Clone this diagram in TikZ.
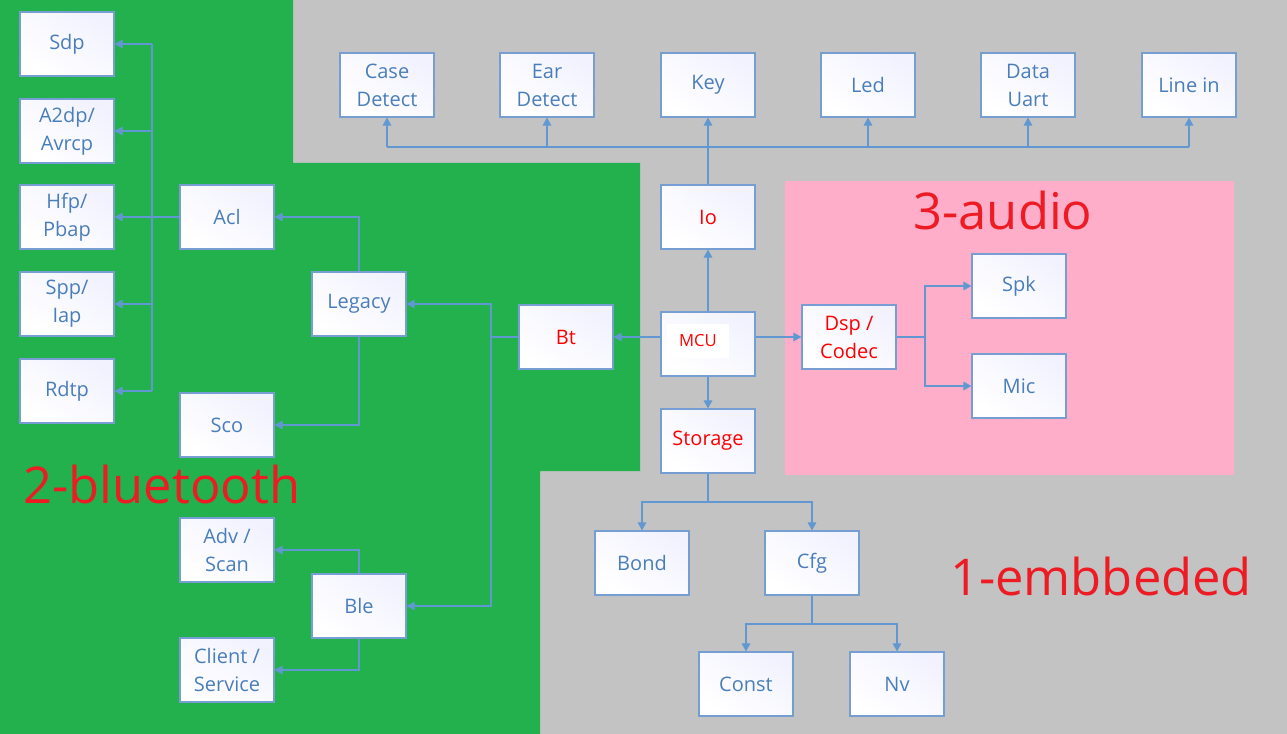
\documentclass[tikz,border=0pt]{standalone}
\usepackage{fontspec}
\setmainfont{Open Sans}
\usetikzlibrary{arrows.meta}

\definecolor{bggray}{RGB}{195,195,195}
\definecolor{btgreen}{RGB}{34,177,76}
\definecolor{audpink}{RGB}{255,174,201}
\definecolor{boxline}{RGB}{118,158,210}
\definecolor{wire}{RGB}{98,152,210}
\definecolor{txtblue}{RGB}{74,126,187}
\definecolor{lblred}{RGB}{237,28,36}

\tikzset{
    blk/.style={draw=boxline, line width=0.9pt, top color=blue!5!white, bottom color=white,
        shading angle=-35, minimum width=70.5pt, minimum height=48pt, inner sep=0pt,
        align=center, text=txtblue, font=\fontsize{15}{21}\selectfont},
    hot/.style={text=red},
    arr/.style={draw=wire, line width=0.8pt, -{Triangle[length=6pt, width=6.5pt]}},
    wr/.style={draw=wire, line width=0.8pt},
    area/.style={text=lblred, font=\fontsize{38}{40}\selectfont}
}

\begin{document}
\begin{tikzpicture}[x=0.75pt, y=-0.75pt]
        \useasboundingbox (0, 0) rectangle (1287, 734);

        % areas
        \fill[bggray] (0, 0) rectangle (1287, 734);
        \fill[btgreen] (0, 0) -- (293, 0) -- (293, 163) -- (640, 163) -- (640, 471)
            -- (540, 471) -- (540, 734) -- (0, 734) -- cycle;
        \fill[audpink] (785, 181) rectangle (1234, 475);

        \node[area] (lblaudio) at (1003, 210) {3-audio};
        \node[area] (lblbt) at (162, 484) {2-bluetooth};
        \node[area] (lblemb) at (1101, 576) {1-embbeded};

        % bluetooth profiles
        \node[blk] (Sdp)  at (67, 44)  {Sdp};
        \node[blk] (A2dp) at (67, 131) {A2dp/\\Avrcp};
        \node[blk] (Hfp)  at (67, 217) {Hfp/\\Pbap};
        \node[blk] (Spp)  at (67, 304) {Spp/\\Iap};
        \node[blk] (Rdtp) at (67, 391) {Rdtp};

        \node[blk] (Acl)    at (227, 217) {Acl};
        \node[blk] (Sco)    at (227, 425) {Sco};
        \node[blk] (Legacy) at (359, 304) {Legacy};
        \node[blk] (Adv)    at (227, 550) {Adv /\\Scan};
        \node[blk] (Client) at (227, 670) {Client /\\Service};
        \node[blk] (Ble)    at (359, 606) {Ble};
        \node[blk, hot] (Bt) at (566, 337) {Bt};

        % embedded
        \node[blk] (Case)   at (387, 85)  {Case\\Detect};
        \node[blk] (Ear)    at (547, 85)  {Ear\\Detect};
        \node[blk] (Key)    at (708, 85)  {Key};
        \node[blk] (Led)    at (868, 85)  {Led};
        \node[blk] (Uart)   at (1028, 85) {Data\\Uart};
        \node[blk] (Linein) at (1189, 85) {Line in};

        \node[blk, hot] (Io) at (708, 217) {Io};
        \node[blk] (MCU) at (708, 344) {};
        \node[fill=white, text=red, inner sep=0pt, minimum width=46pt, minimum height=26pt,
            font=\fontsize{12.5}{14}\selectfont] (mcutxt) at (698, 341) {MCU};
        \node[blk, hot] (Storage) at (708, 441) {Storage};
        \node[blk] (Bond)  at (642, 563) {Bond};
        \node[blk] (Cfg)   at (812, 563) {Cfg};
        \node[blk] (Const) at (746, 684) {Const};
        \node[blk] (Nv)    at (897, 684) {Nv};

        % audio
        \node[blk, hot] (Dsp) at (849, 337) {Dsp /\\Codec};
        \node[blk] (Spk) at (1019, 286) {Spk};
        \node[blk] (Mic) at (1019, 386) {Mic};

        % bus points
        \coordinate (pbus) at (152, 44);
        \coordinate (btbus) at (491, 337);
        \coordinate (tbus) at (708, 147);
        \coordinate (sbus) at (708, 502);
        \coordinate (cbus) at (812, 624);
        \coordinate (dbus) at (925, 337);

        % profiles bus
        \draw[wr] (pbus) -- (pbus |- Rdtp.east);
        \draw[wr] (Acl.west) -- (Acl.west -| pbus);
        \foreach \b in {Sdp, A2dp, Hfp, Spp, Rdtp}
            \draw[arr] (\b.east -| pbus) -- (\b.east);

        \draw[arr] (Legacy.north) |- (Acl.east);
        \draw[arr] (Legacy.south) |- (Sco.east);
        \draw[arr] (Ble.north) |- (Adv.east);
        \draw[arr] (Ble.south) |- (Client.east);

        \draw[wr] (Bt.west) -- (btbus);
        \draw[arr] (btbus) |- (Legacy.east);
        \draw[arr] (btbus) |- (Ble.east);

        % mcu
        \draw[arr] (MCU.west |- Bt.east) -- (Bt.east);
        \draw[arr] (MCU.east |- Dsp.west) -- (Dsp.west);
        \draw[arr] (MCU.north) -- (Io.south);
        \draw[arr] (MCU.south) -- (Storage.north);

        \draw[wr] (Io.north) -- (tbus);
        \draw[wr] (tbus -| Case.south) -- (tbus -| Linein.south);
        \foreach \b in {Case, Ear, Key, Led, Uart, Linein}
            \draw[arr] (tbus -| \b.south) -- (\b.south);

        \draw[wr] (Storage.south) -- (sbus);
        \draw[arr] (sbus) -| (Bond.north);
        \draw[arr] (sbus) -| (Cfg.north);

        \draw[wr] (Cfg.south) -- (cbus);
        \draw[arr] (cbus) -| (Const.north);
        \draw[arr] (cbus) -| (Nv.north);

        \draw[wr] (Dsp.east) -- (dbus);
        \draw[arr] (dbus) |- (Spk.west);
        \draw[arr] (dbus) |- (Mic.west);
    \end{tikzpicture}
\end{document}
